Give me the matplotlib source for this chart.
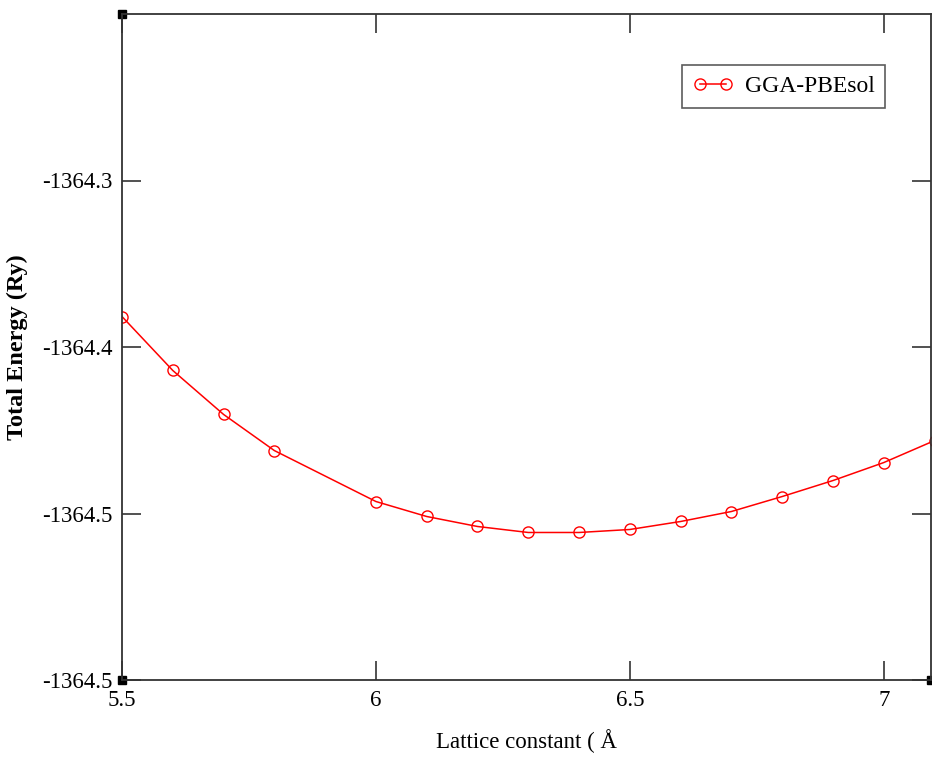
import matplotlib
matplotlib.use("Agg")
import matplotlib.pyplot as plt

lattice = [5.5, 5.6, 5.7, 5.8, 6.0, 6.1, 6.2, 6.3, 6.4, 6.5, 6.6, 6.7, 6.8, 6.9, 7.0, 7.1]
energy = [-1364.3817, -1364.4141, -1364.4405, -1364.4622, -1364.4928, -1364.5018,
          -1364.5078, -1364.5114, -1364.5114, -1364.5096, -1364.5048, -1364.4988,
          -1364.4898, -1364.4802, -1364.4694, -1364.4562]
xticks = [5.5, 6.0, 6.5, 7.0]
xticklabels = ["5.5", "6", "6.5", "7"]
yticks = [-1364.3, -1364.4, -1364.5, -1364.6]
yticklabels = ["-1364.3", "-1364.4", "-1364.5", "-1364.5"]

plt.rcParams['font.family'] = ['Liberation Serif', 'DejaVu Serif']

fig = plt.figure(figsize=(9.32, 7.57), dpi=100)
ax = fig.add_axes([122/932, 1-680/757, (931-122)/932, (680-14)/757])

ax.plot(lattice, energy, color='#ff0000', lw=1.1, marker='o', ms=8,
        mfc='none', mec='#ff0000', mew=1.0, label='GGA-PBEsol')

ax.set_xlim(5.5, 7.093)
ax.set_ylim(-1364.6, -1364.2)
ax.set_xticks(xticks)
ax.set_xticklabels(xticklabels)
ax.set_yticks(yticks)
ax.set_yticklabels(yticklabels)
ax.tick_params(direction='in', length=14, width=1.2, labelsize=16.5, pad=7,
               top=True, right=True, color='#333333')
for s in ax.spines.values():
    s.set_linewidth(1.3)
    s.set_color('#333333')

ax.set_xlabel('Lattice constant ( Å', fontsize=16.5, labelpad=13)
ax.set_ylabel('Total Energy (Ry)', fontsize=17.5, fontweight='bold', labelpad=10)

# corner squares
ax.plot([0, 0, 1], [1, 0, 0], ls='none', marker='s', ms=6, color='black',
        transform=ax.transAxes, clip_on=False)

leg = ax.legend(loc='upper right', bbox_to_anchor=((885-122)/809, (680-65)/666),
                fontsize=17, frameon=True, fancybox=False, edgecolor='#333333',
                numpoints=2, handlelength=1.7, borderpad=0.45, handletextpad=0.5,
                borderaxespad=0)
leg.get_frame().set_linewidth(1.2)

fig.savefig('out.png', dpi=100)
